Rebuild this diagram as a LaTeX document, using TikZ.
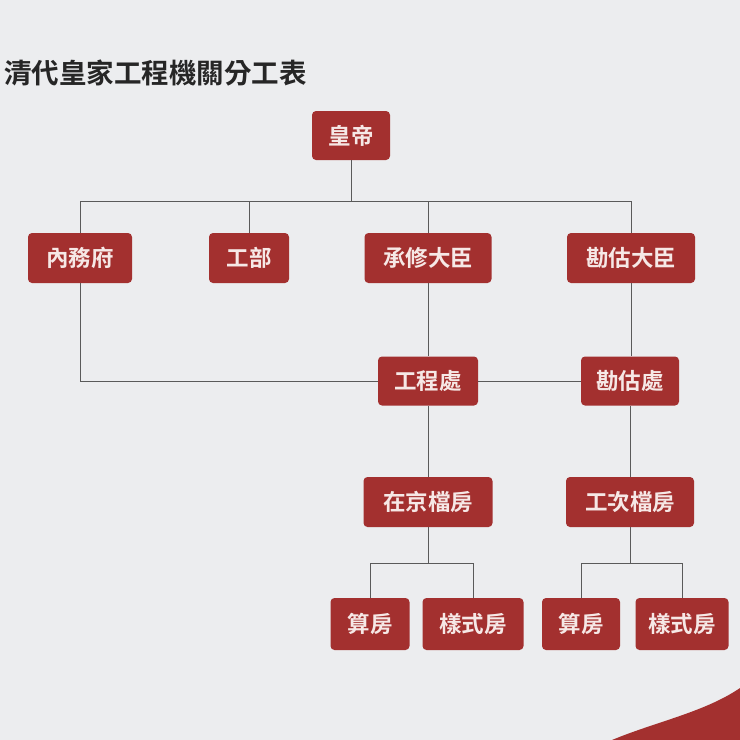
\documentclass[tikz,border=0pt]{standalone}
\usepackage{fontspec}
\newfontfamily\cjk{Noto Sans CJK TC}[BoldFont={Noto Sans CJK TC Bold}]
\definecolor{bg}{HTML}{ECEDEF}
\definecolor{boxred}{HTML}{A3302F}
\definecolor{boxtxt}{HTML}{F6E8E6}
\definecolor{linecol}{HTML}{5A5A5A}
\begin{document}
\begin{tikzpicture}[x=1pt,y=-1pt,
  box/.style={rectangle, rounded corners=4pt, fill=boxred, text=boxtxt,
    inner sep=0pt, minimum height=50pt,
    font=\cjk\bfseries\fontsize{22.5pt}{22.5pt}\selectfont},
  conn/.style={draw=linecol, line width=0.9pt}]
\useasboundingbox[fill=bg] (0,0) rectangle (740,740);
% title
\node[anchor=west, inner sep=0pt, font=\cjk\bfseries\fontsize{27.5pt}{27.5pt}\selectfont, text=black!85] (title) at (4,73) {清代皇家工程機關分工表};
% nodes
\node[box, minimum width=78pt, minimum height=49pt] (emp) at (351,135.5) {皇帝};
\node[box, minimum width=104pt] (nwf) at (80,258) {內務府};
\node[box, minimum width=80pt] (gb) at (249,258) {工部};
\node[box, minimum width=127pt] (cx) at (428,258) {承修大臣};
\node[box, minimum width=128pt] (kg) at (631,258) {勘估大臣};
\node[box, minimum width=100pt, minimum height=49pt] (gcc) at (428,381) {工程處};
\node[box, minimum width=98pt, minimum height=49pt] (kgc) at (630,381) {勘估處};
\node[box, minimum width=129pt] (zj) at (428,502) {在京檔房};
\node[box, minimum width=128pt] (gc) at (630,502) {工次檔房};
\node[box, minimum width=79pt, minimum height=52pt] (sf1) at (370,624) {算房};
\node[box, minimum width=101pt, minimum height=52pt] (ys1) at (473,624) {樣式房};
\node[box, minimum width=78pt, minimum height=52pt] (sf2) at (581,624) {算房};
\node[box, minimum width=93pt, minimum height=52pt] (ys2) at (682,624) {樣式房};
% bus coordinates
\coordinate (b1) at (351,201);
\coordinate (b2) at (428,563);
\coordinate (b3) at (630,563);
% connectors
\draw[conn] (emp.south) -- (b1);
\draw[conn] (nwf.north) -- (nwf.north |- b1) -- (kg.north |- b1) -- (kg.north);
\draw[conn] (gb.north) -- (gb.north |- b1);
\draw[conn] (cx.north) -- (cx.north |- b1);
\draw[conn] (nwf.south) |- (gcc.west);
\draw[conn] (gcc.east) -- (kgc.west);
\draw[conn] (cx.south) -- (gcc.north);
\draw[conn] (kg.south) -- (kgc.north -| kg.south);
\draw[conn] (gcc.south) -- (zj.north);
\draw[conn] (kgc.south) -- (gc.north);
\draw[conn] (zj.south) -- (b2);
\draw[conn] (sf1.north) -- (sf1.north |- b2) -- (ys1.north |- b2) -- (ys1.north);
\draw[conn] (gc.south) -- (b3);
\draw[conn] (sf2.north) -- (sf2.north |- b3) -- (ys2.north |- b3) -- (ys2.north);
% decorative corner shape
\fill[boxred] (612,740) .. controls (655,722) and (705,712) .. (740,688) -- (740,740) -- cycle;
\end{tikzpicture}
\end{document}
